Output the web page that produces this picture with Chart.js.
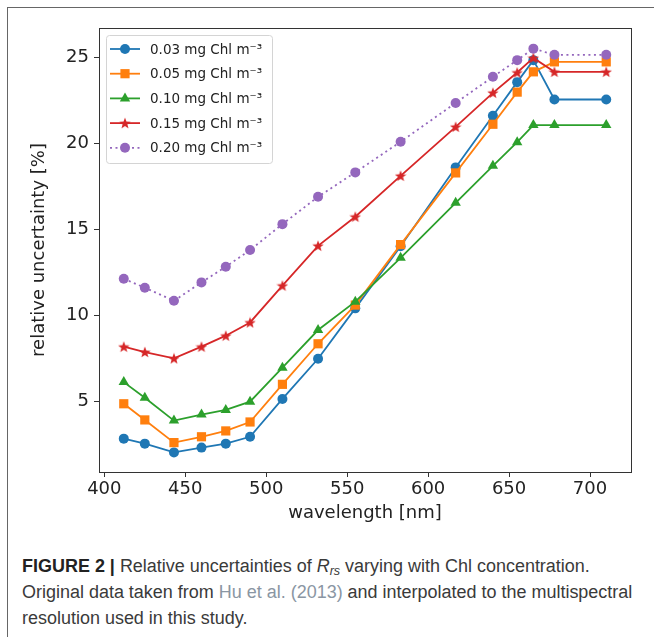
<!DOCTYPE html>
<html>
<head>
<meta charset="utf-8">
<script src="https://cdn.jsdelivr.net/npm/chart.js@4"></script>
<style>
  body { margin: 0; background: #fff; }
  #page { position: relative; width: 654px; height: 637px; overflow: hidden; }
  #frame { position: absolute; left: 7px; top: 7px; width: 660px; height: 640px;
           border-left: 1px solid #666; border-top: 1px solid #666; }
  #chart { position: absolute; left: 0; top: 0; }
  #caption { position: absolute; left: 22px; top: 553px; width: 625px;
             font-family: "Liberation Sans", Arial, sans-serif; font-size: 17px;
             line-height: 26px; color: #3a3a3a; white-space: nowrap; }
  #caption b { color: #222; }
  #caption .ref { color: #8a96a3; }
  #caption sub { font-size: 0.7em; vertical-align: -0.25em; line-height: 0; }
</style>
</head>
<body>
<div id="page">
  <div id="frame"></div>
  <canvas id="chart" width="654" height="540"></canvas>
  <div id="caption">
    <div><b>FIGURE 2 |</b> Relative uncertainties of <i>R</i><sub><i>rs</i></sub> varying with Chl concentration.</div>
    <div id="line2">Original data taken from <span class="ref">Hu et al. (2013)</span> and interpolated to the multispectral</div>
    <div>resolution used in this study.</div>
  </div>
</div>
<script>
/* =====================
  Data
===================== */

var wavelength = [412, 425, 443, 460, 475, 490, 510, 532, 555, 583, 617, 640, 655, 665, 678, 710];

var chl003 = [2.81, 2.52, 2.01, 2.29, 2.52, 2.92, 5.12, 7.46, 10.39, 14.0, 18.59, 21.59, 23.55, 24.83, 22.54, 22.54];
var chl005 = [4.84, 3.90, 2.58, 2.92, 3.26, 3.78, 5.97, 8.33, 10.58, 14.1, 18.27, 21.1, 22.97, 24.15, 24.73, 24.73];
var chl010 = [6.10, 5.19, 3.86, 4.21, 4.48, 4.96, 6.94, 9.13, 10.78, 13.33, 16.53, 18.68, 20.06, 21.05, 21.05, 21.05];
var chl015 = [8.16, 7.85, 7.48, 8.16, 8.80, 9.57, 11.71, 14.03, 15.72, 18.1, 20.95, 22.93, 24.11, 24.96, 24.15, 24.15];
var chl020 = [12.11, 11.59, 10.83, 11.9, 12.81, 13.78, 15.29, 16.88, 18.3, 20.08, 22.34, 23.86, 24.83, 25.5, 25.14, 25.14];

var seriesLabels = ['0.03 mg Chl m\u207B\u00B3', '0.05 mg Chl m\u207B\u00B3', '0.10 mg Chl m\u207B\u00B3',
                    '0.15 mg Chl m\u207B\u00B3', '0.20 mg Chl m\u207B\u00B3'];
var xTicks = [400, 450, 500, 550, 600, 650, 700];
var yTicks = [5, 10, 15, 20, 25];

var FONT = "'DejaVu Sans', sans-serif";

// matplotlib style filled star marker
var makeStar = function(color, size) {
  var c = document.createElement('canvas');
  c.width = size; c.height = size;
  var g = c.getContext('2d');
  var cx = size / 2, cy = size / 2 + 0.5, ro = size / 2, ri = ro * 0.42;
  g.beginPath();
  for (var i = 0; i < 10; i++) {
    var r = i % 2 === 0 ? ro : ri;
    var a = -Math.PI / 2 + i * Math.PI / 5;
    g.lineTo(cx + r * Math.cos(a), cy + r * Math.sin(a));
  }
  g.closePath();
  g.fillStyle = color;
  g.fill();
  return c;
};

var toPoints = function(vals) {
  return vals.map(function(v, i) { return {x: wavelength[i], y: v}; });
};

var series = [
  {vals: chl003, color: '#1f77b4', style: 'circle', radius: 5},
  {vals: chl005, color: '#ff7f0e', style: 'rect', radius: 6.5},
  {vals: chl010, color: '#2ca02c', style: 'triangle', radius: 6},
  {vals: chl015, color: '#d62728', style: makeStar('#d62728', 12), radius: 6},
  {vals: chl020, color: '#9467bd', style: 'circle', radius: 5, dash: [2, 3.5]}
];

var datasets = series.map(function(s, i) {
  return {
    label: seriesLabels[i],
    data: toPoints(s.vals),
    borderColor: s.color,
    backgroundColor: s.color,
    borderWidth: 1.8,
    borderDash: s.dash || [],
    pointStyle: s.style,
    pointRadius: s.radius,
    pointBorderWidth: 0,
    pointBackgroundColor: s.color,
    order: 4 - i
  };
});

// box around the plot + legend inside
var boxPlugin = {
  id: 'box',
  afterDatasetsDraw: function(chart) {
    var ctx = chart.ctx, a = chart.chartArea;
    ctx.save();
    ctx.strokeStyle = '#333';
    ctx.lineWidth = 1;
    ctx.strokeRect(a.left + 0.5, a.top + 0.5, a.right - a.left, a.bottom - a.top);

    // legend
    var lx = 106, ly = 35, lw = 166, lh = 128;
    ctx.beginPath();
    ctx.roundRect(lx + 0.5, ly + 0.5, lw, lh, 3);
    ctx.fillStyle = 'rgba(255,255,255,0.8)';
    ctx.fill();
    ctx.strokeStyle = '#d4d4d4';
    ctx.stroke();
    ctx.font = '13.5px ' + FONT;
    ctx.textBaseline = 'middle';
    chart.data.datasets.forEach(function(ds, i) {
      var y = 49 + i * 24.7;
      ctx.beginPath();
      ctx.setLineDash(ds.borderDash);
      ctx.strokeStyle = ds.borderColor;
      ctx.lineWidth = ds.borderWidth;
      ctx.moveTo(110, y);
      ctx.lineTo(140, y);
      ctx.stroke();
      ctx.setLineDash([]);
      ctx.fillStyle = ds.pointBackgroundColor;
      Chart.helpers.drawPoint(ctx, {pointStyle: ds.pointStyle, radius: ds.pointRadius, rotation: 0, borderWidth: 0}, 125, y);
      ctx.fillStyle = '#222';
      ctx.fillText(ds.label, 150, y + 1);
    });
    ctx.restore();
  }
};

var chart = new Chart(document.getElementById('chart').getContext('2d'), {
  type: 'line',
  data: {datasets: datasets},
  options: {
    responsive: false,
    animation: false,
    layout: {padding: {left: 0, right: 23, top: 28, bottom: 0}},
    plugins: {legend: {display: false}, tooltip: {enabled: false}},
    scales: {
      x: {
        type: 'linear', min: 396.7, max: 725.3,
        afterBuildTicks: function(s) { s.ticks = xTicks.map(function(v) { return {value: v}; }); },
        ticks: {font: {family: FONT, size: 18}, color: '#222', padding: 2, maxRotation: 0},
        grid: {drawOnChartArea: false, drawTicks: true, tickLength: 5, color: '#333'},
        border: {display: true, color: '#333'},
        title: {display: true, text: 'wavelength [nm]', font: {family: FONT, size: 18}, color: '#222', padding: {top: 0, bottom: 16}},
        afterFit: function(s) { s.height = 68; }
      },
      y: {
        type: 'linear', min: 0.87, max: 26.7,
        afterBuildTicks: function(s) { s.ticks = yTicks.map(function(v) { return {value: v}; }); },
        ticks: {font: {family: FONT, size: 18}, color: '#222', padding: 5},
        grid: {drawOnChartArea: false, drawTicks: true, tickLength: 5, color: '#333'},
        border: {display: true, color: '#333'},
        title: {display: true, text: 'relative uncertainty [%]', font: {family: FONT, size: 18}, color: '#222', padding: {top: 29, bottom: 0}},
        afterFit: function(s) { s.width = 99; }
      }
    }
  },
  plugins: [boxPlugin]
});

// fit caption width to the reference line length
var line2 = document.getElementById('line2');
var range = document.createRange();
range.selectNodeContents(line2);
var w = range.getBoundingClientRect().width;
document.getElementById('caption').style.fontSize = (17 * 611 / w) + 'px';
</script>
</body>
</html>
